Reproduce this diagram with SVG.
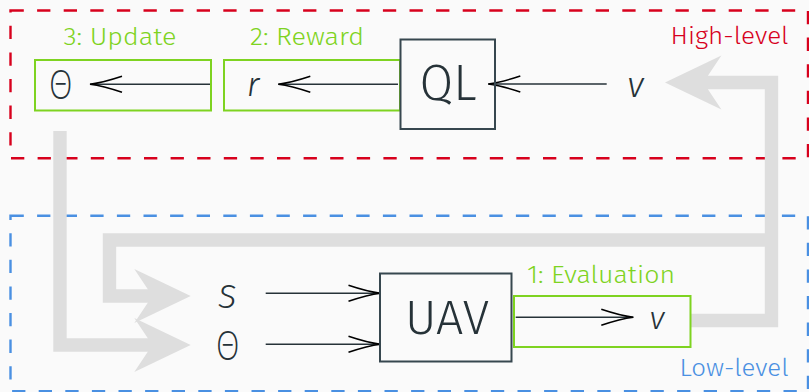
<svg xmlns="http://www.w3.org/2000/svg" width="809" height="392" viewBox="0 0 809 392">
<defs>
<style>
.bg{fill:#fafafa}
.region{fill:none;stroke-width:2.4;stroke-dasharray:13.3 13.3}
.hi{stroke:#d7011d}
.lo{stroke:#4a90e2}
.gbox{fill:none;stroke:#7ed321;stroke-width:2}
.dbox{fill:none;stroke:#37474f;stroke-width:2}
.lab{font-family:"Fira Sans","Open Sans","Liberation Sans",sans-serif;font-weight:300;font-size:24px}
.glab{fill:#7ed321}
.rlab{fill:#d7011d}
.blab{fill:#4a90e2}
.big{font-family:"Fira Sans","Open Sans","Liberation Sans",sans-serif;font-weight:300;fill:#263238;text-anchor:middle}
.sym{font-family:"Fira Sans","Open Sans","Liberation Sans",sans-serif;font-weight:300;fill:#263238;text-anchor:middle}
.theta{font-family:"Open Sans","DejaVu Sans",sans-serif;font-weight:300;fill:#263238;text-anchor:middle}
.it{font-style:italic}
.wire{fill:none;stroke:#263238;stroke-width:1.6;marker-end:url(#to)}
.band{fill:none;stroke:#dedede;stroke-width:13.4;stroke-linejoin:miter}
.head{fill:#dedede}
</style>
<marker id="to" markerUnits="userSpaceOnUse" markerWidth="40" markerHeight="20" refX="0" refY="0" orient="auto" overflow="visible">
<path d="M -32 -8 C -20 -4 -8 -1 0 0 C -8 1 -20 4 -32 8" fill="none" stroke="#000" stroke-width="1.6"/>
</marker>
</defs>
<rect class="bg" x="0" y="0" width="809" height="392"/>

<g id="high-level">
<rect class="region hi" x="10.5" y="10.5" width="797.5" height="147.8"/>
<text class="lab rlab" x="788.5" y="43.5" text-anchor="end" textLength="118" lengthAdjust="spacingAndGlyphs">High-level</text>
</g>
<g id="low-level">
<rect class="region lo" x="10.5" y="215.7" width="797.5" height="175.5"/>
<text class="lab blab" x="788.5" y="375.7" text-anchor="end" textLength="109" lengthAdjust="spacingAndGlyphs">Low-level</text>
</g>

<g id="connectors">
<path class="band" d="M 690 320.5 H 771.5 V 82.5 H 700"/>
<polygon class="head" points="665,82.5 721.4,55.5 703.4,82.5 721.4,109.5"/>
<path class="band" d="M 60 131 V 345 H 155"/>
<polygon class="head" points="190.7,345 134.3,318 152.3,345 134.3,372"/>
<path class="band" d="M 771.5 240 H 109.5 V 296 H 155"/>
<polygon class="head" points="190.7,296 134.3,269 152.3,296 134.3,323"/>
<path class="wire" d="M 210 84.3 H 90"/>
<path class="wire" d="M 398 84.3 H 278.3"/>
<path class="wire" d="M 606.7 84 H 488.3"/>
<path class="wire" d="M 265.7 293.3 H 380.5"/>
<path class="wire" d="M 265.7 344.3 H 380.5"/>
<path class="wire" d="M 515.7 317.3 H 633.3"/>
</g>

<g id="update">
<rect class="gbox" x="35" y="60" width="176" height="50.5"/>
<text class="lab glab" x="120" y="45" text-anchor="middle" textLength="113" lengthAdjust="spacingAndGlyphs">3: Update</text>
<text class="theta" x="60.7" y="99" font-size="40" textLength="23" lengthAdjust="spacingAndGlyphs">Θ</text>
</g>
<g id="reward">
<rect class="gbox" x="224" y="60" width="176" height="50.5"/>
<text class="lab glab" x="307" y="45" text-anchor="middle" textLength="114" lengthAdjust="spacingAndGlyphs">2: Reward</text>
<text class="sym it" x="253" y="96" font-size="34">r</text>
</g>
<g id="ql">
<rect class="dbox" x="400.5" y="39.5" width="94.5" height="89.5"/>
<text class="big" x="448" y="100" font-size="50" textLength="57" lengthAdjust="spacingAndGlyphs">QL</text>
</g>
<g id="v-high">
<text class="sym it" x="635.5" y="96.7" font-size="35">v</text>
</g>
<g id="s-in">
<text class="sym it" x="227" y="308.3" font-size="34">S</text>
</g>
<g id="theta-in">
<text class="theta" x="227.7" y="360" font-size="40" textLength="23" lengthAdjust="spacingAndGlyphs">Θ</text>
</g>
<g id="uav">
<rect class="dbox" x="380" y="273.5" width="131.5" height="88"/>
<text class="big" x="447" y="334" font-size="48" textLength="84" lengthAdjust="spacingAndGlyphs">UAV</text>
</g>
<g id="evaluation">
<rect class="gbox" x="514" y="296" width="176.5" height="51"/>
<text class="lab glab" x="601" y="282.7" text-anchor="middle" textLength="148" lengthAdjust="spacingAndGlyphs">1: Evaluation</text>
<text class="sym it" x="657" y="329" font-size="32">v</text>
</g>
</svg>
